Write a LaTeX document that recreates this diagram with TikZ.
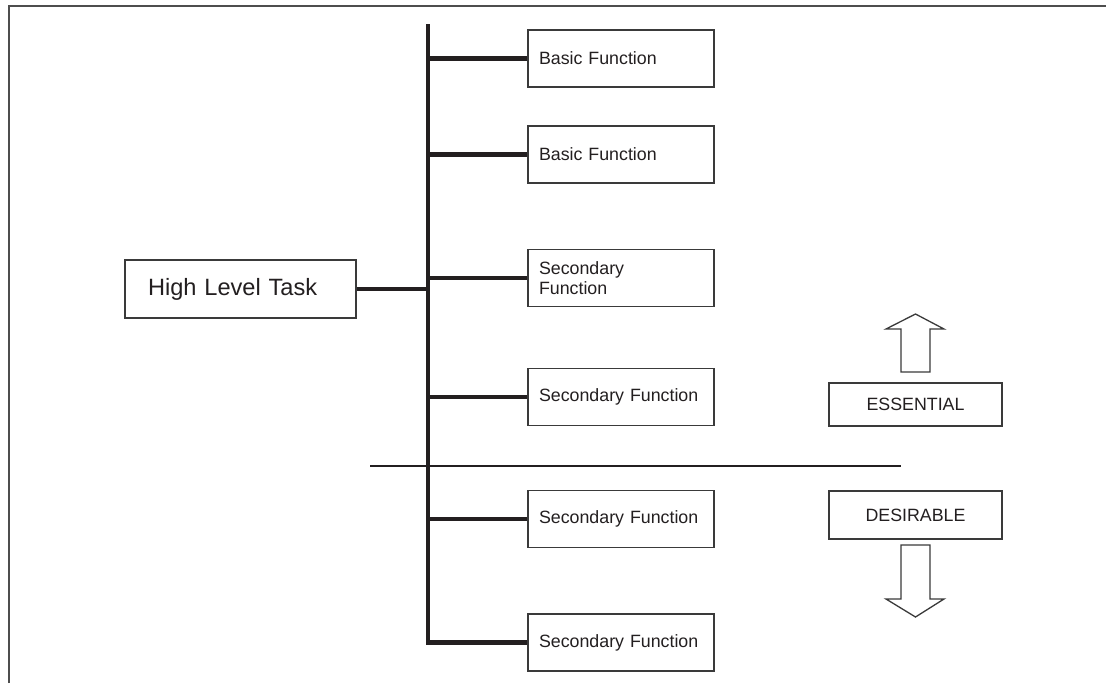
\documentclass[tikz,border=0pt]{standalone}
\usepackage{fontspec}
\setmainfont{Liberation Sans}
\usetikzlibrary{positioning}
\definecolor{ink}{RGB}{35,31,32}
\definecolor{edge}{RGB}{58,58,58}
\tikzstyle{func} = [
    rectangle,
    draw=edge,
    line width=1.3pt,
    fill=white,
    minimum width=186pt,
    minimum height=57pt,
    text width=164pt,
    inner xsep=11pt,
    align=left,
    text=ink,
    font=\fontsize{17.8}{20}\selectfont
]
\tikzstyle{task} = [
    func,
    minimum width=231pt,
    minimum height=58pt,
    text width=185pt,
    inner xsep=23pt,
    font=\fontsize{23.6}{28}\selectfont
]
\tikzstyle{tag} = [
    func,
    minimum width=173pt,
    text width=151pt,
    align=center
]
\tikzstyle{branch} = [
    line width=4.5pt,
    draw=ink
]
\tikzstyle{hollow} = [
    line width=1.3pt,
    draw=edge,
    fill=white,
    line join=miter
]

\begin{document}
\begin{tikzpicture}[x=1pt,y=-1pt]
    \useasboundingbox (0,0) rectangle (1106,683);
    % frame
    \draw[line width=2pt, draw=edge!90] (8.5,683) -- (8.5,5.5) -- (1106,5.5);

    % task and its functions
    \node[task] (hlt) at (240.5,289) {High Level Task};
    \coordinate (trunk) at (428,24);
    \foreach \y/\t [count=\i] in {
        58.5/Basic Function,
        154.5/Basic Function,
        278/{Secondary\\Function},
        397/Secondary Function,
        519/Secondary Function,
        642.5/Secondary Function
    } {
        \node[func] (fn\i) at (621,\y) {\t};
    }
    \draw[branch] (trunk) -- (trunk |- fn6.west) -- (fn6.west);
    \foreach \i in {1,...,5} {
        \draw[branch] (trunk |- fn\i.west) -- (fn\i.west);
    }
    \draw[branch] (hlt.east) -- (trunk |- hlt.east);

    % divider
    \coordinate (cutl) at (370,466);
    \coordinate (cutr) at (901,466);
    \draw[line width=2.2pt, draw=ink] (cutl) -- (cutr);

    % essential / desirable
    \node[tag, minimum height=43pt] (ess) at (915.5,404.5) {ESSENTIAL};
    \node[tag, minimum height=48pt] (des) at (915.5,515) {DESIRABLE};
    \draw[hollow] (901,372) -- (901,329) -- (886,329) -- (915.5,314)
        -- (944,329) -- (930,329) -- (930,372) -- cycle;
    \draw[hollow] (901,545) -- (901,599) -- (886,599) -- (915.5,617)
        -- (944,599) -- (930,599) -- (930,545) -- cycle;
\end{tikzpicture}
\end{document}
